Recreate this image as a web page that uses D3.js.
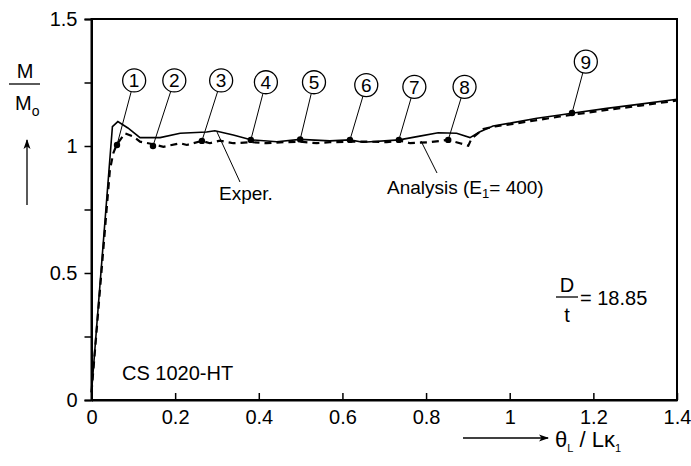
<!DOCTYPE html>
<html>
<head>
<meta charset="utf-8">
<script src="https://cdn.jsdelivr.net/npm/d3@7"></script>
<style>
  html, body { margin: 0; padding: 0; background: #fff; }
  svg { display: block; font-family: "Liberation Sans", Arial, sans-serif; }
</style>
</head>
<body>
<svg id="chart" width="691" height="466"></svg>
<script>
// ── Data ─────────────────────────────────────────────────────────────────────
const experX = [0, 0.050, 0.063, 0.087, 0.116, 0.164, 0.212, 0.275, 0.295, 0.339, 0.383, 0.443, 0.499, 0.570, 0.618, 0.649, 0.736, 0.785, 0.829, 0.873, 0.905, 0.929, 0.960, 1.008, 1.065, 1.120, 1.148, 1.232, 1.312, 1.400]
const experY = [0.03, 1.076, 1.096, 1.071, 1.033, 1.033, 1.050, 1.055, 1.060, 1.043, 1.024, 1.017, 1.026, 1.020, 1.024, 1.015, 1.024, 1.039, 1.052, 1.050, 1.033, 1.056, 1.079, 1.092, 1.109, 1.122, 1.129, 1.148, 1.165, 1.184]

const analysisX = [0, 0.044, 0.052, 0.060, 0.080, 0.100, 0.116, 0.148, 0.172, 0.212, 0.228, 0.264, 0.283, 0.307, 0.339, 0.383, 0.419, 0.459, 0.499, 0.539, 0.570, 0.618, 0.666, 0.706, 0.738, 0.762, 0.809, 0.853, 0.881, 0.901, 0.909, 0.937, 0.965, 1.008, 1.065, 1.120, 1.232, 1.312, 1.400]
const analysisY = [0.03, 0.906, 0.971, 1.004, 1.050, 1.037, 1.017, 1.007, 0.997, 1.011, 1.004, 1.020, 1.011, 1.021, 1.011, 1.015, 1.011, 1.015, 1.017, 1.011, 1.015, 1.017, 1.017, 1.015, 1.021, 1.011, 1.015, 1.024, 1.011, 1.001, 1.030, 1.067, 1.077, 1.087, 1.102, 1.116, 1.142, 1.159, 1.179]

// numbered measuring points
const pointIds = ['1', '2', '3', '4', '5', '6', '7', '8', '9']
const pointX = [0.061, 0.147, 0.264, 0.381, 0.499, 0.618, 0.735, 0.853, 1.149]
const pointY = [1.004, 1.000, 1.020, 1.024, 1.026, 1.024, 1.024, 1.024, 1.130]
// circled-label anchor (data units)
const labelX = [0.102, 0.198, 0.310, 0.417, 0.532, 0.657, 0.772, 0.892, 1.182]
const labelY = [1.258, 1.258, 1.258, 1.251, 1.251, 1.240, 1.233, 1.233, 1.332]

const yTicks = [0, 0.25, 0.5, 0.75, 1, 1.25, 1.5]
const yTickLabels = { 0: '0', 0.5: '0.5', 1: '1', 1.5: '1.5' }
const xTicks = [0, 0.2, 0.4, 0.6, 0.8, 1, 1.2, 1.4]

// ── Layout ───────────────────────────────────────────────────────────────────
const svg = d3.select('#chart')
const x = d3.scaleLinear().domain([0, 1.4]).range([91.5, 677])
const y = d3.scaleLinear().domain([0, 1.5]).range([400, 19])
const FS = 20

const defs = svg.append('defs')
defs.append('marker')
  .attr('id', 'arr').attr('viewBox', '0 0 10 10')
  .attr('refX', 9).attr('refY', 5)
  .attr('markerWidth', 10).attr('markerHeight', 10)
  .attr('markerUnits', 'userSpaceOnUse')
  .attr('orient', 'auto')
  .append('path').attr('d', 'M0,1.5 L10,5 L0,8.5 L2.5,5 Z').attr('fill', '#000')

// ── Frame ────────────────────────────────────────────────────────────────────
svg.append('rect')
  .attr('x', x(0)).attr('y', y(1.5))
  .attr('width', x(1.4) - x(0)).attr('height', y(0) - y(1.5))
  .attr('fill', 'none').attr('stroke', '#000').attr('stroke-width', 2)

// ── Axes ─────────────────────────────────────────────────────────────────────
const yAxis = svg.append('g')
  .attr('transform', `translate(${x(0)},0)`)
  .call(d3.axisLeft(y).tickValues(yTicks).tickSize(7).tickPadding(7)
    .tickFormat(d => yTickLabels[d] ?? ''))
yAxis.select('.domain').attr('stroke-width', 2)
yAxis.selectAll('.tick line').attr('stroke-width', 1.5)
yAxis.selectAll('text').attr('font-size', FS).attr('font-family', 'Liberation Sans, Arial, sans-serif').attr('fill', '#000')

const xAxis = svg.append('g')
  .attr('transform', `translate(0,${y(0)})`)
  .call(d3.axisBottom(x).tickValues(xTicks).tickSizeInner(-7).tickSizeOuter(0).tickPadding(10)
    .tickFormat(d3.format('~g')))
xAxis.select('.domain').attr('stroke-width', 2)
xAxis.selectAll('.tick line').attr('stroke-width', 1.5)
xAxis.selectAll('text').attr('font-size', FS).attr('font-family', 'Liberation Sans, Arial, sans-serif').attr('fill', '#000')

// ── Curves ───────────────────────────────────────────────────────────────────
const line = d3.line().x(d => x(d[0])).y(d => y(d[1]))

svg.append('path')
  .datum(d3.zip(analysisX, analysisY))
  .attr('d', line)
  .attr('fill', 'none').attr('stroke', '#000')
  .attr('stroke-width', 2.2).attr('stroke-dasharray', '7,5')

svg.append('path')
  .datum(d3.zip(experX, experY))
  .attr('d', line)
  .attr('fill', 'none').attr('stroke', '#000')
  .attr('stroke-width', 1.6)

// ── Numbered points ──────────────────────────────────────────────────────────
const R = 11.5
const pts = pointIds.map((id, i) => ({
  id, px: x(pointX[i]), py: y(pointY[i]), lx: x(labelX[i]), ly: y(labelY[i])
}))

const pg = svg.append('g')
pg.selectAll('line.leader').data(pts).join('line')
  .attr('class', 'leader')
  .attr('x1', d => d.lx + R * Math.cos(Math.atan2(d.py - d.ly, d.px - d.lx)))
  .attr('y1', d => d.ly + R * Math.sin(Math.atan2(d.py - d.ly, d.px - d.lx)))
  .attr('x2', d => d.px).attr('y2', d => d.py)
  .attr('stroke', '#000').attr('stroke-width', 1)

pg.selectAll('circle.dot').data(pts).join('circle')
  .attr('class', 'dot')
  .attr('cx', d => d.px).attr('cy', d => d.py).attr('r', 3.2).attr('fill', '#000')

pg.selectAll('circle.ring').data(pts).join('circle')
  .attr('class', 'ring')
  .attr('cx', d => d.lx).attr('cy', d => d.ly).attr('r', R)
  .attr('fill', '#fff').attr('stroke', '#000').attr('stroke-width', 1.3)

pg.selectAll('text.num').data(pts).join('text')
  .attr('class', 'num')
  .attr('x', d => d.lx).attr('y', d => d.ly + 7)
  .attr('text-anchor', 'middle').attr('font-size', 19)
  .text(d => d.id)

// ── Annotations ──────────────────────────────────────────────────────────────
svg.append('line')
  .attr('x1', 217).attr('y1', 132).attr('x2', 240).attr('y2', 182)
  .attr('stroke', '#000').attr('stroke-width', 1)
svg.append('text').attr('x', 219).attr('y', 200).attr('font-size', 19).text('Exper.')

svg.append('line')
  .attr('x1', 421).attr('y1', 141).attr('x2', 437).attr('y2', 173)
  .attr('stroke', '#000').attr('stroke-width', 1)
const an = svg.append('text').attr('x', 387).attr('y', 194).attr('font-size', 19)
an.append('tspan').text('Analysis (E')
an.append('tspan').attr('font-size', 13).attr('dy', 4).text('1')
an.append('tspan').attr('dy', -4).text('= 400)')

// D / t = 18.85
svg.append('text').attr('x', 567).attr('y', 292).attr('text-anchor', 'middle').attr('font-size', FS).text('D')
svg.append('line').attr('x1', 556).attr('x2', 578).attr('y1', 297).attr('y2', 297).attr('stroke', '#000').attr('stroke-width', 1.3)
svg.append('text').attr('x', 567).attr('y', 322).attr('text-anchor', 'middle').attr('font-size', FS).text('t')
svg.append('text').attr('x', 580).attr('y', 305).attr('font-size', FS).text('= 18.85')

svg.append('text').attr('x', 122).attr('y', 380).attr('font-size', FS).text('CS 1020-HT')

// y label: M / Mo with arrow
svg.append('text').attr('x', 25).attr('y', 78).attr('text-anchor', 'middle').attr('font-size', FS).text('M')
svg.append('line').attr('x1', 9).attr('x2', 40).attr('y1', 84).attr('y2', 84).attr('stroke', '#000').attr('stroke-width', 1.3)
const mo = svg.append('text').attr('x', 15).attr('y', 110).attr('font-size', FS)
mo.append('tspan').text('M')
mo.append('tspan').attr('font-size', 14).attr('dy', 6).text('o')
svg.append('line').attr('x1', 27).attr('x2', 27).attr('y1', 205).attr('y2', 140)
  .attr('stroke', '#000').attr('stroke-width', 1.3).attr('marker-end', 'url(#arr)')

// x label: θL / Lκ1 with arrow
svg.append('line').attr('x1', 463).attr('x2', 548).attr('y1', 438).attr('y2', 438)
  .attr('stroke', '#000').attr('stroke-width', 1.3).attr('marker-end', 'url(#arr)')
const xl = svg.append('text').attr('x', 555).attr('y', 447).attr('font-size', 22)
xl.append('tspan').text('θ')
xl.append('tspan').attr('font-size', 11).attr('dy', 5).text('L')
xl.append('tspan').attr('dy', -5).text(' / Lκ')
xl.append('tspan').attr('font-size', 11).attr('dy', 5).text('1')
</script>
</body>
</html>
